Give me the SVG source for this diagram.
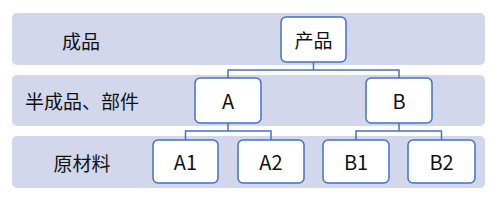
<svg xmlns="http://www.w3.org/2000/svg" width="495" height="202" viewBox="0 0 495 202">
<style>
.band{fill:#D2D7EB}
.box{fill:#fff;stroke:#4472C4;stroke-width:1.5}
.lbl{font-family:"Noto Sans CJK SC","Noto Sans",sans-serif;font-size:19px;fill:#111;text-anchor:middle;dominant-baseline:central}
.lat{font-size:20px}
.conn{fill:none;stroke:#4472C4;stroke-width:1.5}
</style>
<rect width="495" height="202" fill="#fff"/>
<g id="bands">
<rect class="band" x="12" y="13" width="473" height="52" rx="5"/>
<rect class="band" x="12" y="75" width="473" height="51" rx="5"/>
<rect class="band" x="12" y="136" width="473" height="52" rx="5"/>
<text class="lbl" x="81" y="40">成品</text>
<text class="lbl" x="82" y="100">半成品、部件</text>
<text class="lbl" x="82" y="162">原材料</text>
</g>
<g id="connectors">
<path class="conn" d="M313.5 62V70M228 78V70H399V78"/>
<path class="conn" d="M228 123V131M185.5 140V131H271V140"/>
<path class="conn" d="M399 123V131M356 140V131H441.5V140"/>
</g>
<g id="n-product"><rect class="box" x="281" y="17" width="65" height="45" rx="5"/><text class="lbl" x="313.5" y="39.5">产品</text></g>
<g id="n-A"><rect class="box" x="195" y="78" width="66" height="45" rx="5"/><text class="lbl lat" x="228" y="100.5">A</text></g>
<g id="n-B"><rect class="box" x="366" y="78" width="66" height="45" rx="5"/><text class="lbl lat" x="399" y="100.5">B</text></g>
<g id="n-A1"><rect class="box" x="153" y="140" width="65" height="43" rx="5"/><text class="lbl lat" x="185.5" y="161.5">A1</text></g>
<g id="n-A2"><rect class="box" x="238" y="140" width="66" height="43" rx="5"/><text class="lbl lat" x="271" y="161.5">A2</text></g>
<g id="n-B1"><rect class="box" x="323" y="140" width="66" height="43" rx="5"/><text class="lbl lat" x="356" y="161.5">B1</text></g>
<g id="n-B2"><rect class="box" x="408" y="140" width="67" height="43" rx="5"/><text class="lbl lat" x="441.5" y="161.5">B2</text></g>
</svg>
